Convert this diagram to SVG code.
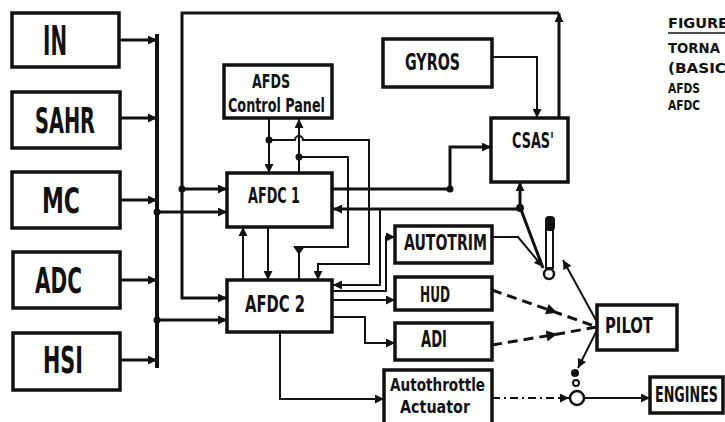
<svg xmlns="http://www.w3.org/2000/svg" width="725" height="422" viewBox="0 0 725 422">
<defs>
<marker id="ah" viewBox="0 0 10 10" refX="10" refY="5" markerWidth="10" markerHeight="9" orient="auto" markerUnits="userSpaceOnUse"><path d="M0,0 L10,5 L0,10 z" fill="#111"/></marker>
<marker id="ahm" viewBox="0 0 10 10" refX="5" refY="5" markerWidth="12" markerHeight="11" orient="auto" markerUnits="userSpaceOnUse"><path d="M0,0 L10,5 L0,10 z" fill="#111"/></marker>
</defs>
<style>
.box{fill:#fff;stroke:#111;stroke-width:3.5}
.t{font-family:"Liberation Sans Narrow","DejaVu Sans Condensed","Liberation Sans",sans-serif;font-weight:bold;fill:#111}
.w{fill:none;stroke:#111;stroke-width:2}
.m{fill:none;stroke:#111;stroke-width:3}
.bus{fill:none;stroke:#111;stroke-width:4}
.dot{fill:#111}
</style>
<rect width="725" height="422" fill="#fff"/>

<g id="connectors">
<path class="bus" d="M157,34 V368"/>
<path class="m" d="M119,40 H157" marker-end="url(#ah)"/>
<path class="m" d="M120,118 H157" marker-end="url(#ah)"/>
<path class="m" d="M120,200 H157" marker-end="url(#ah)"/>
<path class="m" d="M120,280 H157" marker-end="url(#ah)"/>
<path class="m" d="M120,360 H157" marker-end="url(#ah)"/>
<path class="m" d="M157,212 H227" marker-end="url(#ah)"/>
<circle class="dot" cx="157" cy="212" r="3.5"/>
<path class="m" d="M157,320 H227" marker-end="url(#ah)"/>
<circle class="dot" cx="157" cy="320" r="3.5"/>
<path class="m" d="M559,118 V13" marker-end="url(#ah)"/>
<path class="m" d="M559,13 H182 V298 H227" marker-end="url(#ah)"/>
<path class="m" d="M182,189 H227" marker-end="url(#ah)"/>
<circle class="dot" cx="182" cy="189" r="3.5"/>
<path class="w" d="M492,57 H537 V118" marker-end="url(#ah)"/>
<path class="w" d="M269,118 V173" marker-end="url(#ah)"/>
<circle class="dot" cx="269" cy="140" r="3.5"/>
<path class="w" d="M269,140 H295 a4,4 0 0 1 8,0 H369 V264 H318 V280" marker-end="url(#ah)"/>
<path class="w" d="M299,173 V119" marker-end="url(#ah)"/>
<circle class="dot" cx="299" cy="157" r="3.5"/>
<path class="w" d="M299,157 H348 V247 H299 V280"/>
<path class="dot" d="M293,246 L305,246 L299,255 z"/>
<path class="w" d="M268,227 V280" marker-end="url(#ah)"/>
<path class="w" d="M243,280 V227" marker-end="url(#ah)"/>
<path class="m" d="M332,189 H450 V147 H491" marker-end="url(#ah)"/>
<circle class="dot" cx="450" cy="189" r="3.5"/>
<path class="m" d="M543,268 L520,207 V182" marker-end="url(#ah)"/>
<path class="m" d="M520,209 H333" marker-end="url(#ah)"/>
<circle class="dot" cx="520" cy="208" r="4"/>
<path class="w" d="M380,209 V285 H333" marker-end="url(#ah)"/>
<path class="w" d="M332,291 H386 V237 H395" marker-end="url(#ah)"/>
<path class="w" d="M332,300 H395" marker-end="url(#ah)"/>
<path class="w" d="M332,317 H365 V343 H395" marker-end="url(#ah)"/>
<path class="w" d="M280,332 V399 H384" marker-end="url(#ah)"/>
<path class="w" d="M492,237 H518 L543,267" marker-end="url(#ah)"/>
<path class="m" d="M492,290 L552,311 L597,327" stroke-dasharray="10,6" marker-mid="url(#ahm)"/>
<path class="m" d="M492,345 L552,335 L597,327" stroke-dasharray="10,6" marker-mid="url(#ahm)"/>
<path class="w" d="M597,322 L563,260" marker-end="url(#ah)"/>
<path class="w" d="M597,330 L578,368" marker-end="url(#ah)"/>
<path class="w" d="M492,398 H569" stroke-dasharray="8,4,2,4" marker-end="url(#ah)"/>
<path class="w" d="M584,398 H650" marker-end="url(#ah)"/>
</g>

<g id="stick">
<rect x="546" y="224" width="7" height="44" fill="#fff" stroke="#111" stroke-width="2"/>
<rect x="545" y="216" width="10" height="15" rx="4" fill="#111"/>
<circle cx="549" cy="274" r="5" fill="#fff" stroke="#111" stroke-width="2.5"/>
</g>
<g id="throttle">
<circle cx="575" cy="373" r="4" fill="#111"/>
<circle cx="576" cy="383" r="3" fill="#fff" stroke="#111" stroke-width="2"/>
<circle cx="577" cy="398" r="7" fill="#fff" stroke="#111" stroke-width="2.5"/>
</g>

<g id="IN"><rect class="box" x="12" y="13" width="107" height="54"/><text class="t" x="43" y="55" font-size="40" textLength="24" lengthAdjust="spacingAndGlyphs">IN</text></g>
<g id="SAHR"><rect class="box" x="12" y="92" width="108" height="56"/><text class="t" x="35" y="133" font-size="35" textLength="60" lengthAdjust="spacingAndGlyphs">SAHR</text></g>
<g id="MC"><rect class="box" x="12" y="172" width="108" height="56"/><text class="t" x="42" y="213" font-size="36" textLength="38" lengthAdjust="spacingAndGlyphs">MC</text></g>
<g id="ADC"><rect class="box" x="13" y="252" width="107" height="56"/><text class="t" x="35" y="293" font-size="36" textLength="47" lengthAdjust="spacingAndGlyphs">ADC</text></g>
<g id="HSI"><rect class="box" x="13" y="333" width="107" height="57"/><text class="t" x="43" y="373" font-size="38" textLength="40" lengthAdjust="spacingAndGlyphs">HSI</text></g>

<g id="GYROS"><rect class="box" x="383" y="39" width="109" height="48"/><text class="t" x="405" y="70" font-size="23" textLength="55" lengthAdjust="spacingAndGlyphs">GYROS</text></g>
<g id="AFDS_Control_Panel"><rect class="box" x="224" y="65" width="108" height="53"/><text class="t" x="252" y="88" font-size="20" textLength="38" lengthAdjust="spacingAndGlyphs">AFDS</text><text class="t" x="228" y="112" font-size="20" textLength="97" lengthAdjust="spacingAndGlyphs">Control Panel</text></g>
<g id="AFDC1"><rect class="box" x="227" y="173" width="105" height="54"/><text class="t" x="248" y="203" font-size="21" textLength="52" lengthAdjust="spacingAndGlyphs">AFDC 1</text></g>
<g id="AFDC2"><rect class="box" x="227" y="280" width="105" height="52"/><text class="t" x="245" y="312" font-size="23" textLength="60" lengthAdjust="spacingAndGlyphs">AFDC 2</text></g>
<g id="CSAS"><rect class="box" x="491" y="118" width="77" height="64"/><text class="t" x="512" y="148" font-size="21" textLength="42" lengthAdjust="spacingAndGlyphs">CSAS'</text></g>
<g id="AUTOTRIM"><rect class="box" x="395" y="226" width="97" height="37"/><text class="t" x="404" y="250" font-size="21" textLength="83" lengthAdjust="spacingAndGlyphs">AUTOTRIM</text></g>
<g id="HUD"><rect class="box" x="395" y="277" width="97" height="33"/><text class="t" x="420" y="302" font-size="21" textLength="30" lengthAdjust="spacingAndGlyphs">HUD</text></g>
<g id="ADI"><rect class="box" x="395" y="323" width="97" height="37"/><text class="t" x="421" y="347" font-size="23" textLength="26" lengthAdjust="spacingAndGlyphs">ADI</text></g>
<g id="Autothrottle_Actuator"><rect class="box" x="384" y="370" width="108" height="60"/><text class="t" x="390" y="391" font-size="18" textLength="95" lengthAdjust="spacingAndGlyphs">Autothrottle</text><text class="t" x="400" y="413" font-size="18" textLength="70" lengthAdjust="spacingAndGlyphs">Actuator</text></g>
<g id="PILOT"><rect class="box" x="597" y="305" width="80" height="45"/><text class="t" x="605" y="333" font-size="21" textLength="48" lengthAdjust="spacingAndGlyphs">PILOT</text></g>
<g id="ENGINES"><rect class="box" x="650" y="377" width="73" height="36"/><text class="t" x="655" y="402" font-size="21" textLength="63" lengthAdjust="spacingAndGlyphs">ENGINES</text></g>

<g id="caption">
<text class="t" x="668" y="28" font-size="14" textLength="60" lengthAdjust="spacingAndGlyphs">FIGURE</text>
<line x1="668" y1="33" x2="725" y2="33" stroke="#111" stroke-width="1.5"/>
<text class="t" x="668" y="53" font-size="14" textLength="52" lengthAdjust="spacingAndGlyphs">TORNA</text>
<text class="t" x="668" y="73" font-size="14" textLength="58" lengthAdjust="spacingAndGlyphs">(BASIC</text>
<text class="t" x="668" y="93" font-size="14" textLength="32" lengthAdjust="spacingAndGlyphs">AFDS</text>
<text class="t" x="668" y="110" font-size="14" textLength="32" lengthAdjust="spacingAndGlyphs">AFDC</text>
</g>
</svg>
